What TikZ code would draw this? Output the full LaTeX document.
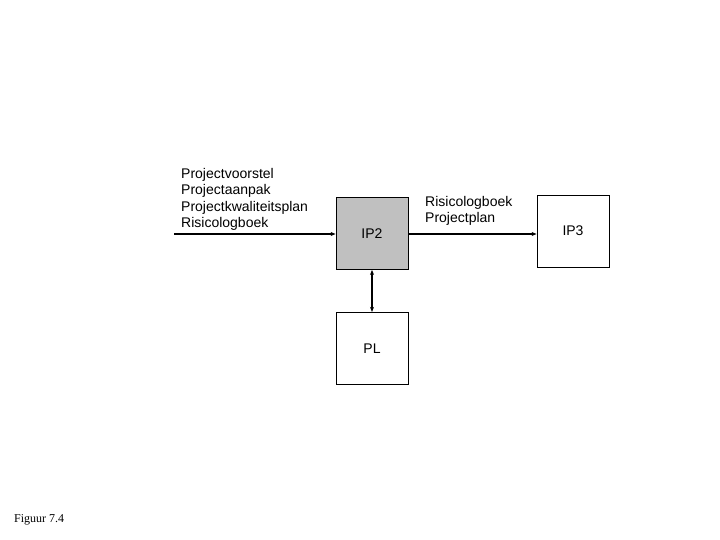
\documentclass[tikz,border=0pt]{standalone}
\usepackage{fontspec}
\setmainfont{Liberation Serif}
\setsansfont{Liberation Sans}
\usetikzlibrary{arrows.meta,positioning}
\definecolor{ipink}{HTML}{000000}
\definecolor{ipfill}{HTML}{C0C0C0}
\tikzset{
  ipbox/.style={
    draw=ipink,
    line width=0.8pt,
    minimum width=72pt,
    minimum height=72pt,
    inner sep=0pt,
    font=\fontsize{14}{16}\sffamily,
    text=ipink
  },
  ipactive/.style={
    ipbox,
    fill=ipfill
  },
  ipflow/.style={
    -{Stealth[length=5pt,width=4pt]},
    line width=1.3pt,
    color=ipink
  },
  iplink/.style={
    {Stealth[length=5pt,width=4pt]}-{Stealth[length=5pt,width=4pt]},
    line width=1.3pt,
    color=ipink
  },
  iplabel/.style={
    font=\fontsize{14}{16.5}\selectfont\sffamily,
    align=left,
    inner sep=0pt,
    text=ipink
  }
}
\begin{document}
\begin{tikzpicture}[x=1pt,y=-1pt]
  \useasboundingbox[fill=white] (0,0) rectangle (720,540);

  \node[ipactive] (ip2) at (372,233.5) {IP2};
  \node[ipbox] (ip3) at (573,231) {IP3};
  \node[ipbox, below=42pt of ip2] (pl) {PL};

  \coordinate (start) at (174,234);

  \node[iplabel, anchor=south west] (inputs) at (181,231) {%
    Projectvoorstel\\
    Projectaanpak\\
    Projectkwaliteitsplan\\
    Risicologboek};

  \node[iplabel, anchor=south west] (outputs) at (425,226) {%
    Risicologboek\\
    Projectplan};

  \node[font=\fontsize{12}{14}\rmfamily, anchor=west, inner sep=0pt] (caption) at (14,520) {Figuur 7.4};

  \draw[ipflow] (start) -- (ip2.west |- start);
  \draw[ipflow] (ip2.east |- start) -- (ip3.west |- start);
  \draw[iplink] (ip2.south) -- (pl.north);
\end{tikzpicture}
\end{document}
